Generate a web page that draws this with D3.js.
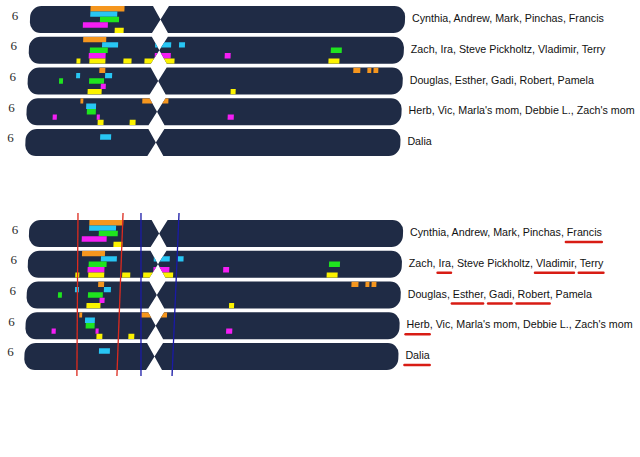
<!DOCTYPE html>
<html>
<head>
<meta charset="utf-8">
<script src="https://cdn.jsdelivr.net/npm/d3@7"></script>
<style>
  html, body { margin: 0; padding: 0; background: #ffffff; }
  svg { display: block; }
</style>
</head>
<body>
<svg id="chart" width="640" height="457"></svg>
<script>
// ---------------- data ----------------
const chromosomeLengthMb = 171;
const centromereMb = 59.5;
const chromosomeLabels = ["6", "6", "6", "6", "6"];
const matchGroups = [
  "Cynthia, Andrew, Mark, Pinchas, Francis",
  "Zach, Ira, Steve Pickholtz, Vladimir, Terry",
  "Douglas, Esther, Gadi, Robert, Pamela",
  "Herb, Vic, Marla's mom, Debbie L., Zach's mom",
  "Dalia"
];
const laneColors = ["#f5961e", "#28c6f4", "#1fe41f", "#f41ef4", "#fbf200"];
// [lane (person index in the group), start Mb, end Mb]
const segmentsRow1 = [[0,27.4,42.9],[1,27.4,39.7],[2,31.9,40.6],[3,24.2,35.6],[4,38.8,42.9]];
const segmentsRow2 = [[0,24.6,35.1],[1,33.3,40.6],[1,57.5,64.8],[1,68.4,71.1],[2,27.8,36.0],[2,137.7,142.7],
                      [3,27.4,35.1],[3,57.5,64.8],[3,89.4,92.1],[4,21.9,23.7],[4,27.8,35.1],[4,43.3,47.0],
                      [4,52.9,66.6],[4,136.8,141.8]];
const segmentsRow3 = [[0,32.5,35.2],[0,148.3,151.5],[0,154.7,156.5],[0,157.5,159.7],[1,22.0,23.8],[1,35.2,38.4],
                      [2,14.3,16.1],[2,28.0,34.8],[3,33.4,35.7],[4,27.5,33.9],[4,92.7,95.0]];
const segmentsRow4 = [[0,24.4,25.7],[0,52.6,64.5],[1,27.1,31.6],[2,27.5,31.6],[3,12.0,13.9],[3,32.1,33.5],
                      [3,91.8,94.6],[4,32.6,35.3],[4,47.2,49.9]];
const segmentsRow5 = [[1,34.0,39.0]];
const segmentRows = [segmentsRow1, segmentsRow2, segmentsRow3, segmentsRow4, segmentsRow5];
// annotations on the second copy
const underlinedNames = [["Francis"], ["Ira", "Vladimir", "Terry"], ["Esther", "Gadi", "Robert"], ["Herb"], ["Dalia"]];
const redMarkersMb = [[22.4, 21.9], [43.0, 40.2]];   // [top, bottom]
const blueMarkersMb = [[51.2, 51.2], [68.6, 65.4]];

// ---------------- drawing ----------------
const svg = d3.select("#chart");
const chromColor = "#1f2b45";
const skewTan = 0.0375;
const skewDeg = Math.atan(skewTan) * 180 / Math.PI;
const defs = svg.append("defs");

function chromPath(x0, x1, xc, y, h) {
  const r = 11, w = 8, m = y + h / 2;
  return `M${x0 + r},${y} L${xc - w},${y} L${xc},${m} L${xc + w},${y} L${x1 - r},${y}
    A${r},${r} 0 0 1 ${x1},${y + r} L${x1},${y + h - r} A${r},${r} 0 0 1 ${x1 - r},${y + h}
    L${xc + w},${y + h} L${xc},${m} L${xc - w},${y + h} L${x0 + r},${y + h}
    A${r},${r} 0 0 1 ${x0},${y + h - r} L${x0},${y + r} A${r},${r} 0 0 1 ${x0 + r},${y} Z`;
}

function drawPanel(id, xRange, yRange, labelX, annotated) {
  const x = d3.scaleLinear().domain([0, chromosomeLengthMb]).range(xRange);
  const rows = d3.scaleBand().domain(d3.range(matchGroups.length)).range(yRange).paddingInner(0.12);
  const lanes = d3.scaleBand().domain(d3.range(5)).range([0, rows.bandwidth()]);
  const y0 = rows(0) + rows.bandwidth() / 2;
  const shift = i => -skewTan * (rows(i) + rows.bandwidth() / 2 - y0);

  const g = svg.append("g").attr("transform", `translate(0,${y0}) skewX(${-skewDeg}) translate(0,${-y0})`);

  matchGroups.forEach((grp, i) => {
    const d = chromPath(x(0), x(chromosomeLengthMb), x(centromereMb), rows(i), rows.bandwidth());
    defs.append("clipPath").attr("id", `${id}-clip-${i}`).append("path").attr("d", d);
    g.append("path").attr("d", d).attr("fill", chromColor);
    g.append("g").attr("clip-path", `url(#${id}-clip-${i})`)
      .selectAll("rect").data(segmentRows[i]).join("rect")
      .attr("x", s => x(s[1]))
      .attr("width", s => x(s[2]) - x(s[1]))
      .attr("y", s => rows(i) + lanes(s[0]))
      .attr("height", lanes.bandwidth())
      .attr("fill", s => laneColors[s[0]]);
  });

  // chromosome number labels
  svg.append("g").selectAll("text").data(chromosomeLabels).join("text")
    .attr("x", (d, i) => 15 + shift(i))
    .attr("y", (d, i) => rows(i) + rows.bandwidth() / 2)
    .attr("text-anchor", "middle")
    .attr("font-family", "'Liberation Serif', 'DejaVu Serif', serif")
    .attr("font-size", 13)
    .attr("fill", "#2a2a2a")
    .text(d => d);

  // group names
  const texts = svg.append("g").selectAll("text").data(matchGroups).join("text")
    .attr("x", (d, i) => labelX + shift(i))
    .attr("y", (d, i) => rows(i) + rows.bandwidth() / 2 + 2.5)
    .attr("font-family", "'Liberation Sans', Arial, sans-serif")
    .attr("font-size", 10.7)
    .attr("fill", "#111")
    .text(d => d);

  if (annotated) {
    texts.each(function (d, i) {
      const node = this;
      const base = +d3.select(node).attr("y");
      underlinedNames[i].forEach(name => {
        const idx = d.indexOf(name);
        if (idx < 0) return;
        const sx = node.getStartPositionOfChar(idx).x;
        const ex = node.getEndPositionOfChar(idx + name.length - 1).x;
        svg.append("line")
          .attr("x1", sx - 1).attr("x2", ex)
          .attr("y1", base + 6).attr("y2", base + 6)
          .attr("stroke", "#d81c14").attr("stroke-width", 2.4)
          .attr("stroke-linecap", "round");
      });
    });
    const top = yRange[0] - 7, bottom = yRange[1] + 6;
    const drawMarkers = (list, color) => {
      svg.append("g").selectAll("line").data(list).join("line")
        .attr("x1", m => x(m[0])).attr("y1", top)
        .attr("x2", m => x(m[1])).attr("y2", bottom)
        .attr("stroke", color).attr("stroke-width", 1.3);
    };
    drawMarkers(redMarkersMb, "#dc2a1e");
    drawMarkers(blueMarkersMb, "#1a1aa6");
  }
}

drawPanel("top", [30, 405], [6, 156], 412, false);
drawPanel("bottom", [29, 403], [220, 370], 410, true);
</script>
</body>
</html>
